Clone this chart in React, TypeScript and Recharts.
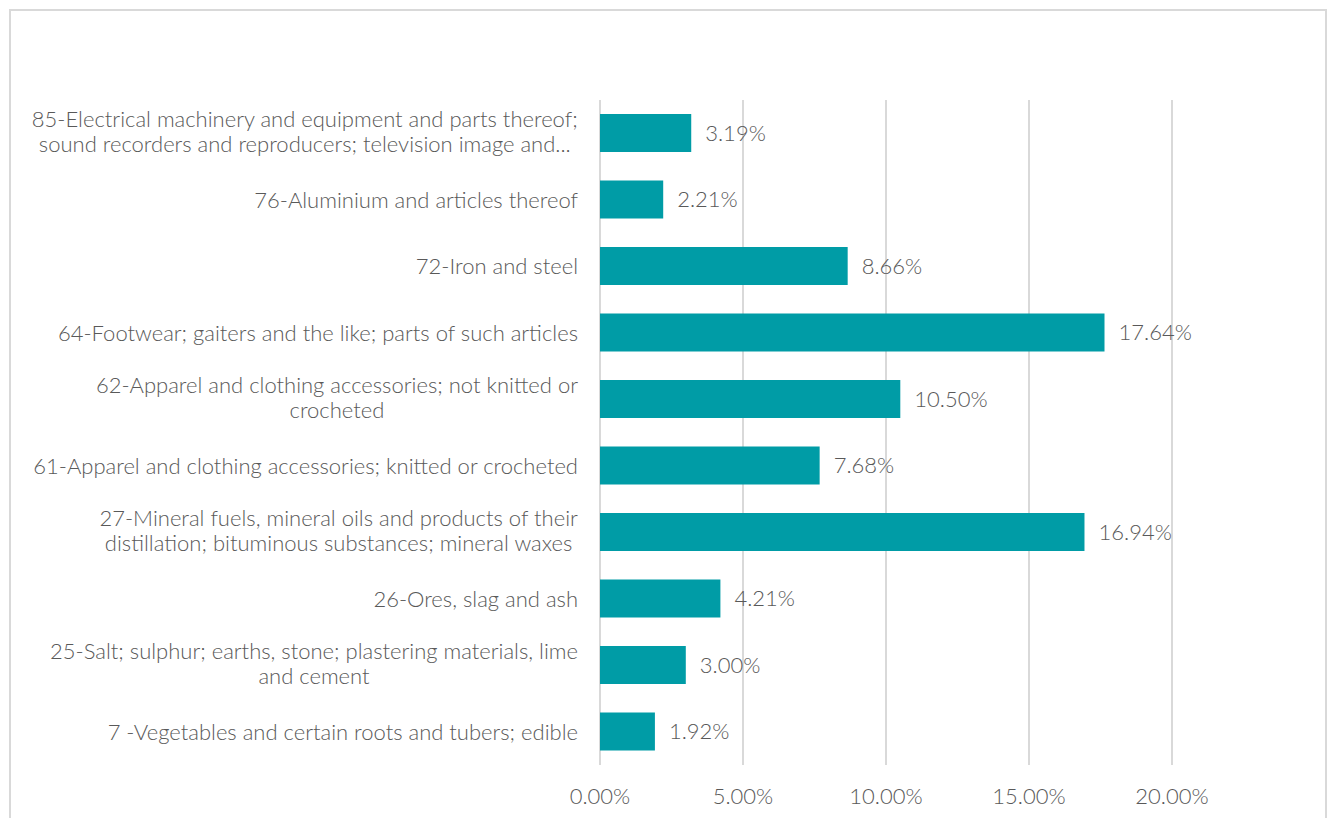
import React from 'react';
import { BarChart, Bar, XAxis, YAxis, CartesianGrid, LabelList } from 'recharts';

const categories = [
  '85-Electrical machinery and equipment and parts thereof;\nsound recorders and reproducers; television image and...',
  '76-Aluminium and articles thereof',
  '72-Iron and steel',
  '64-Footwear; gaiters and the like; parts of such articles',
  '62-Apparel and clothing accessories; not knitted or\ncrocheted',
  '61-Apparel and clothing accessories; knitted or crocheted',
  '27-Mineral fuels, mineral oils and products of their\ndistillation; bituminous substances; mineral waxes',
  '26-Ores, slag and ash',
  '25-Salt; sulphur; earths, stone; plastering materials, lime\nand cement',
  '7 -Vegetables and certain roots and tubers; edible',
];

const shares = [3.19, 2.21, 8.66, 17.64, 10.5, 7.68, 16.94, 4.21, 3.0, 1.92];

const xTicks = [0, 5, 10, 15, 20];

const data = categories.map((name, i) => ({ name, share: shares[i] }));

const FONT = 'Lato, "Open Sans", sans-serif';
const GREY = '#595959';
const FS = 22;

let ctx: CanvasRenderingContext2D | null = null;
const measure = (s: string) => {
  if (!ctx) ctx = document.createElement('canvas').getContext('2d');
  if (!ctx) return s.length * FS * 0.48;
  ctx.font = `300 ${FS}px Lato`;
  return ctx.measureText(s).width;
};

// multi-line labels are centred on each other, block right-aligned to the axis
const CategoryTick = (props: any) => {
  const { x, y, payload } = props;
  const lines = String(payload.value).split('\n');
  const lh = 25;
  if (lines.length === 1) {
    return (
      <text x={x} y={y + 8} textAnchor="end" fill={GREY} fontSize={FS} fontFamily={FONT} fontWeight={300}>
        {lines[0]}
      </text>
    );
  }
  const w = Math.max(...lines.map(measure));
  const cx = x - w / 2;
  return (
    <text x={cx} y={y} textAnchor="middle" fill={GREY} fontSize={FS} fontFamily={FONT} fontWeight={300}>
      {lines.map((line, i) => (
        <tspan key={i} x={cx} dy={i === 0 ? -((lines.length - 1) * lh) / 2 + 6 : lh}>
          {line}
        </tspan>
      ))}
    </text>
  );
};

const pct = (v: any) => `${Number(v).toFixed(2)}%`;

export default function App() {
  return (
    <div style={{ position: 'absolute', left: 0, top: 0, width: 1333, height: 818, overflow: 'hidden', background: '#fff' }}>
      <div
        style={{
          position: 'absolute',
          left: 9,
          top: 9,
          width: 1318,
          height: 830,
          border: '2px solid #d9d9d9',
          boxSizing: 'border-box',
        }}
      />
      <div style={{ position: 'absolute', left: 0, top: 0 }}>
        <BarChart
          width={1333}
          height={818}
          data={data}
          layout="vertical"
          margin={{ top: 100, right: 161, bottom: 13, left: 0 }}
          barCategoryGap={0}
        >
          <CartesianGrid horizontal={false} stroke="#d9d9d9" strokeWidth={2} />
          <XAxis
            type="number"
            domain={[0, 20]}
            ticks={xTicks}
            tickFormatter={pct}
            axisLine={false}
            tickLine={false}
            tickSize={0}
            tickMargin={23}
            height={40}
            tick={{ fill: GREY, fontSize: FS, fontFamily: FONT, fontWeight: 300 }}
          />
          <YAxis
            type="category"
            dataKey="name"
            width={600}
            axisLine={false}
            tickLine={false}
            tickSize={0}
            tickMargin={22}
            interval={0}
            tick={<CategoryTick />}
          />
          <Bar dataKey="share" fill="#009ca6" barSize={38} isAnimationActive={false}>
            <LabelList
              dataKey="share"
              position="right"
              offset={14}
              formatter={pct}
              fill={GREY}
              fontSize={FS}
              fontFamily={FONT}
              fontWeight={300}
            />
          </Bar>
        </BarChart>
      </div>
    </div>
  );
}
